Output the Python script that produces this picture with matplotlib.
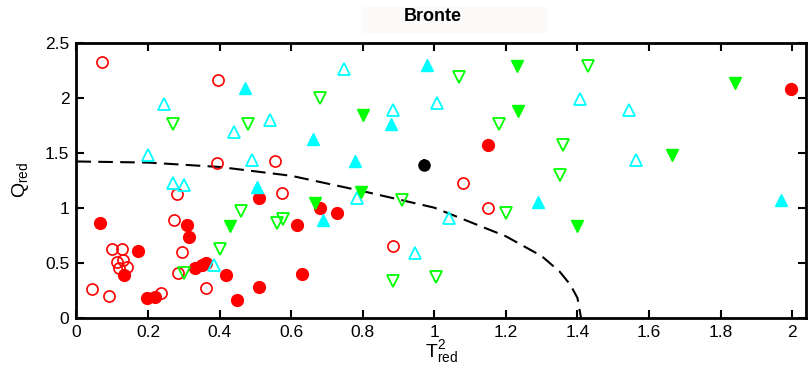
import matplotlib
matplotlib.use("Agg")
import matplotlib.pyplot as plt
from matplotlib.patches import Rectangle

plt.rcParams["font.family"] = ["Liberation Sans", "DejaVu Sans"]

# red open circles
red_open_x = [0.072, 0.396, 0.394, 0.555, 0.575, 0.28, 0.272, 0.294, 0.284, 0.362, 0.043, 0.09, 0.236,
              0.10, 0.127, 0.113, 0.13, 0.12, 0.14, 1.08, 1.149, 0.885]
red_open_y = [2.32, 2.16, 1.41, 1.42, 1.13, 1.12, 0.89, 0.60, 0.41, 0.27, 0.26, 0.20, 0.22,
              0.62, 0.62, 0.51, 0.52, 0.45, 0.46, 1.22, 1.00, 0.65]

# red filled circles
red_fill_x = [0.066, 0.172, 0.133, 0.197, 0.22, 0.31, 0.315, 0.33, 0.35, 0.362, 0.418, 0.448,
              0.51, 0.51, 0.615, 0.68, 0.728, 0.63, 1.15, 1.996]
red_fill_y = [0.86, 0.61, 0.39, 0.18, 0.19, 0.84, 0.73, 0.45, 0.48, 0.50, 0.39, 0.16,
              1.09, 0.28, 0.84, 1.00, 0.95, 0.40, 1.57, 2.08]

# cyan open triangles
cyan_open_x = [0.245, 0.199, 0.44, 0.54, 0.49, 0.27, 0.30, 0.385, 0.748, 0.885, 1.007, 0.784,
               1.04, 0.946, 1.406, 1.545, 1.563]
cyan_open_y = [1.94, 1.48, 1.69, 1.80, 1.43, 1.22, 1.21, 0.48, 2.26, 1.89, 1.95, 1.09,
               0.91, 0.59, 1.99, 1.89, 1.43]

# cyan filled triangles
cyan_fill_x = [0.47, 0.505, 0.98, 0.88, 0.66, 0.778, 0.69, 1.29, 1.97]
cyan_fill_y = [2.09, 1.19, 2.30, 1.76, 1.62, 1.42, 0.89, 1.05, 1.07]

# green open triangles (down)
green_open_x = [0.27, 0.48, 0.46, 0.40, 0.30, 0.56, 0.577, 0.68, 1.07, 1.18, 0.91, 0.885,
                1.004, 1.20, 1.43, 1.36, 1.35]
green_open_y = [1.76, 1.76, 0.97, 0.62, 0.41, 0.86, 0.90, 2.00, 2.19, 1.76, 1.07, 0.33,
                0.37, 0.95, 2.29, 1.57, 1.30]

# green filled triangles (down)
green_fill_x = [0.43, 0.80, 1.23, 1.235, 0.667, 0.795, 1.84, 1.664, 1.40]
green_fill_y = [0.83, 1.84, 2.29, 1.88, 1.04, 1.14, 2.13, 1.48, 0.83]

# black point
black_x = [0.97]
black_y = [1.39]

# dashed boundary
curve_x = [0.0, 0.2, 0.4, 0.6, 0.8, 1.0, 1.1, 1.2, 1.3, 1.35, 1.38, 1.4, 1.41]
curve_y = [1.42, 1.41, 1.37, 1.29, 1.15, 1.00, 0.87, 0.74, 0.56, 0.42, 0.30, 0.18, 0.0]

fig = plt.figure(figsize=(8.08, 3.68), dpi=100)
ax = fig.add_axes([0.0946, 0.1367, 0.9035, 0.7474])

ax.plot(curve_x, curve_y, color="black", lw=1.5, ls=(0, (7, 3.5)), zorder=1)

ax.plot(red_open_x, red_open_y, "o", ms=8, mfc="none", mec="red", mew=1.2, zorder=2)
ax.plot(red_fill_x, red_fill_y, "o", ms=8.5, mfc="red", mec="red", zorder=2)
ax.plot(cyan_open_x, cyan_open_y, "^", ms=9, mfc="none", mec="cyan", mew=1.3, zorder=2)
ax.plot(cyan_fill_x, cyan_fill_y, "^", ms=9, mfc="cyan", mec="cyan", zorder=2)
ax.plot(green_open_x, green_open_y, "v", ms=9, mfc="none", mec="lime", mew=1.3, zorder=2)
ax.plot(green_fill_x, green_fill_y, "v", ms=9, mfc="lime", mec="lime", zorder=2)
ax.errorbar(black_x, black_y, yerr=0.05, fmt="o", ms=8, color="black", elinewidth=1.5, zorder=3)

ax.set_xlim(0, 2.04)
ax.set_ylim(0, 2.5)
ax.set_xticks([0, 0.2, 0.4, 0.6, 0.8, 1, 1.2, 1.4, 1.6, 1.8, 2])
ax.set_xticklabels(["0", "0.2", "0.4", "0.6", "0.8", "1", "1.2", "1.4", "1.6", "1.8", "2"])
ax.set_yticks([0, 0.5, 1, 1.5, 2, 2.5])
ax.set_yticklabels(["0", "0.5", "1", "1.5", "2", "2.5"])
ax.tick_params(direction="in", length=6, width=1.5, top=True, right=True, labelsize=12.5, pad=5)
for s in ax.spines.values():
    s.set_linewidth(2)

ax.set_xlabel(r"$\mathregular{T^2_{red}}$", fontsize=14, labelpad=-1)
ax.set_ylabel(r"$\mathregular{Q_{red}}$", fontsize=14, labelpad=10)

# faint title box
fig.add_artist(Rectangle((0.448, 0.910), 0.230, 0.0707, transform=fig.transFigure,
                         fc="#fcf9f9", ec="none"))
fig.text(0.535, 0.955, "Bronte", ha="center", va="center", fontsize=13, fontweight="bold")

fig.savefig("out.png", dpi=100)
